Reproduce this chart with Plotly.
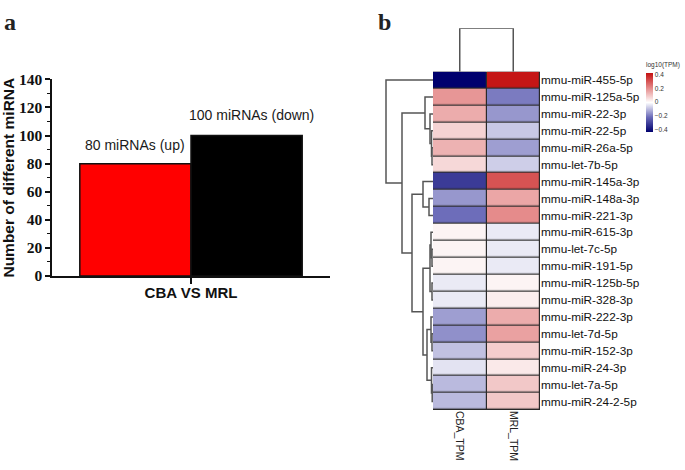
import plotly.graph_objects as go

# ---------------- data ----------------
bar_category = ["CBA VS MRL"]
up_count = [80]
down_count = [100]
up_label = "80 miRNAs (up)"
down_label = "100 miRNAs (down)"

mirnas = ["mmu-miR-455-5p", "mmu-miR-125a-5p", "mmu-miR-22-3p", "mmu-miR-22-5p",
          "mmu-miR-26a-5p", "mmu-let-7b-5p", "mmu-miR-145a-3p", "mmu-miR-148a-3p",
          "mmu-miR-221-3p", "mmu-miR-615-3p", "mmu-let-7c-5p", "mmu-miR-191-5p",
          "mmu-miR-125b-5p", "mmu-miR-328-3p", "mmu-miR-222-3p", "mmu-let-7d-5p",
          "mmu-miR-152-3p", "mmu-miR-24-3p", "mmu-let-7a-5p", "mmu-miR-24-2-5p"]
samples = ["CBA_TPM", "MRL_TPM"]
cba_vals = [-0.45, 0.19, 0.15, 0.08, 0.14, 0.07, -0.31, -0.15, -0.21, 0.02,
            0.02, 0.02, -0.03, -0.03, -0.14, -0.16, -0.09, -0.04, -0.10, -0.10]
mrl_vals = [0.42, -0.19, -0.15, -0.08, -0.14, -0.07, 0.31, 0.16, 0.21, -0.03,
            -0.03, -0.03, 0.02, 0.03, 0.15, 0.17, 0.09, 0.04, 0.10, 0.10]
colorbar_ticks = [0.4, 0.2, 0, -0.2, -0.4]
colorbar_title = "log10(TPM)"

# row dendrogram merges: (left node, right node, height); leaves 0..19, new nodes from 20
row_merges = [
    (4, 5, 1.0), (3, 20, 1.5), (2, 21, 3.0), (1, 22, 8.0),
    (7, 8, 4.0), (6, 24, 10.0),
    (10, 11, 1.0), (9, 26, 2.0), (12, 13, 1.0), (27, 28, 3.0),
    (15, 16, 1.0), (14, 30, 2.0), (18, 19, 0.8), (17, 32, 1.5), (31, 33, 6.0),
    (29, 34, 10.0), (25, 35, 21.0), (23, 36, 31.0), (0, 37, 47.0),
]
col_merge_height = 1.0

# ---------------- layout helpers ----------------
W, H = 685, 470
def px(x): return x / W
def py(y): return 1 - y / H

fig = go.Figure()

# ---------------- panel a: bars ----------------
fig.add_trace(go.Bar(x=bar_category, y=up_count, marker=dict(color="#ff0000", line=dict(color="#111", width=1.5)),
                     showlegend=False, xaxis="x", yaxis="y", hoverinfo="skip"))
fig.add_trace(go.Bar(x=bar_category, y=down_count, marker=dict(color="#000000", line=dict(color="#111", width=1.5)),
                     showlegend=False, xaxis="x", yaxis="y", hoverinfo="skip"))

# ---------------- panel b: heatmap ----------------
z = [[c, m] for c, m in zip(cba_vals, mrl_vals)]
colorscale = [[0, "#00006e"], [0.25, "#6a6ab8"], [0.5, "#ffffff"], [0.75, "#e48888"], [1, "#c41010"]]
fig.add_trace(go.Heatmap(
    z=z, x=list(range(len(samples))), y=list(range(len(mirnas))),
    zmin=-0.43, zmax=0.43, colorscale=colorscale, xgap=1.2, ygap=1.2,
    xaxis="x2", yaxis="y2", hoverinfo="skip",
    colorbar=dict(x=px(646), xanchor="left", y=py(96.5), yanchor="middle",
                  thickness=7, thicknessmode="pixels", len=59, lenmode="pixels",
                  outlinewidth=0, tickvals=colorbar_ticks,
                  ticktext=[("\u2212" if t < 0 else "") + (f"{abs(t):g}") for t in colorbar_ticks],
                  ticks="", tickfont=dict(size=6.5, family="Liberation Sans", color="#333"),
                  xpad=0, ypad=0),
))

# row dendrogram coordinates computed from merges
pos = {i: float(i) for i in range(len(mirnas))}
hgt = {i: 0.0 for i in range(len(mirnas))}
dx, dy = [], []
nid = len(mirnas)
for a, b, h in row_merges:
    dx += [hgt[a], h, h, hgt[b], None]
    dy += [pos[a], pos[a], pos[b], pos[b], None]
    pos[nid] = (pos[a] + pos[b]) / 2
    hgt[nid] = h
    nid += 1
fig.add_trace(go.Scatter(x=dx, y=dy, mode="lines", line=dict(color="#555555", width=1.5),
                         showlegend=False, xaxis="x3", yaxis="y3", hoverinfo="skip"))

# column dendrogram
fig.add_trace(go.Scatter(x=[0, 0, 1, 1], y=[0, col_merge_height, col_merge_height, 0], mode="lines",
                         line=dict(color="#555555", width=1.5), showlegend=False,
                         xaxis="x4", yaxis="y4", hoverinfo="skip"))

nrow = len(mirnas)
ncol = len(samples)
# dark background behind heatmap cells -> cell borders
fig.add_shape(type="rect", xref="x2", yref="y2", x0=-0.5, x1=ncol - 0.5, y0=-0.5, y1=nrow - 0.5,
              fillcolor="#2a2a2a", line=dict(color="#2a2a2a", width=1.5), layer="below")

fig.update_layout(
    width=W, height=H, margin=dict(l=0, r=0, t=0, b=0),
    paper_bgcolor="white", plot_bgcolor="white",
    barmode="group", bargap=0.2, bargroupgap=0,
    xaxis=dict(domain=[px(52), px(330)], showline=True, linecolor="#111", linewidth=1.5,
               ticks="outside", ticklen=6, tickwidth=1.5, tickcolor="#111", ticklabelstandoff=-4,
               tickfont=dict(family="Liberation Sans", size=15, color="#111", weight="bold"),
               showgrid=False, fixedrange=True, anchor="y"),
    yaxis=dict(domain=[py(277), py(73)], range=[0, 140], dtick=20, showline=True, linecolor="#111",
               linewidth=1.5, ticks="outside", ticklen=5, tickwidth=1.5, tickcolor="#111",
               minor=dict(dtick=10, ticks="outside", ticklen=3, tickwidth=1.2, tickcolor="#111"),
               tickfont=dict(family="Liberation Serif", size=15.5, color="#111", weight="bold"),
               showgrid=False, zeroline=False, anchor="x",
               title=dict(text="Number of different miRNA", standoff=5,
                          font=dict(family="Liberation Sans", size=15.5, color="#111", weight="bold"))),
    xaxis2=dict(domain=[px(433), px(540)], range=[-0.5, ncol - 0.5], tickvals=list(range(ncol)),
                ticktext=samples, tickangle=90, ticks="", showgrid=False, zeroline=False,
                tickfont=dict(family="Liberation Sans", size=10.5, color="#222"), anchor="y2"),
    yaxis2=dict(domain=[py(416), py(65)], range=[nrow - 0.5, -0.5], tickvals=list(range(nrow)),
                ticktext=mirnas, side="right", ticks="", showgrid=False, zeroline=False,
                tickfont=dict(family="Liberation Sans", size=11.8, color="#111"), anchor="x2"),
    xaxis3=dict(domain=[px(383), px(433)], range=[50, 0], visible=False, anchor="y3"),
    yaxis3=dict(domain=[py(416), py(65)], range=[nrow - 0.5, -0.5], visible=False, anchor="x3"),
    xaxis4=dict(domain=[px(433), px(540)], range=[-0.5, ncol - 0.5], visible=False, anchor="y4"),
    yaxis4=dict(domain=[py(65), py(20)], range=[0, col_merge_height], visible=False, anchor="x4"),
    annotations=[
        dict(text=up_label, x=-0.2, y=up_count[0], xref="x", yref="y", yanchor="middle", yshift=19,
             showarrow=False, font=dict(family="Liberation Sans", size=14, color="#1a1a1a")),
        dict(text=down_label, x=0.2, y=down_count[0], xref="x", yref="y", yanchor="middle", yshift=21,
             xshift=5, showarrow=False, font=dict(family="Liberation Sans", size=14, color="#1a1a1a")),
        dict(text=colorbar_title, x=px(663), y=py(58), xref="paper", yref="paper", xanchor="center",
             yanchor="middle", showarrow=False, font=dict(family="Liberation Sans", size=6.5, color="#333")),
        dict(text="<b>a</b>", x=px(10), y=py(14), xref="paper", yref="paper", xanchor="center", yanchor="middle",
             showarrow=False, font=dict(family="Liberation Serif", size=24, color="#222")),
        dict(text="<b>b</b>", x=px(384), y=py(13), xref="paper", yref="paper", xanchor="center", yanchor="middle",
             showarrow=False, font=dict(family="Liberation Serif", size=24, color="#222")),
    ],
)

fig.write_html("out.html", config={"displayModeBar": False},
               post_script="document.body.style.margin='0';document.body.style.overflow='hidden';")
